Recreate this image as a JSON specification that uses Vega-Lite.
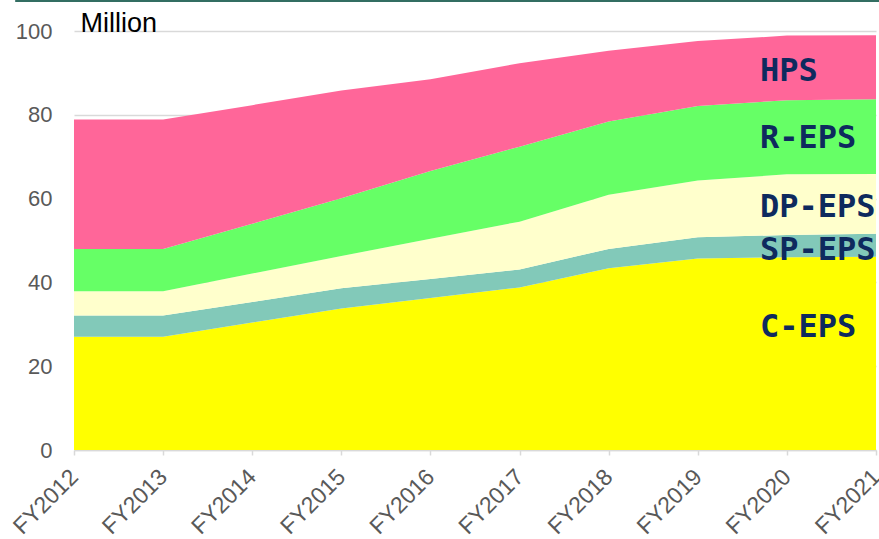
{
  "$schema": "https://vega.github.io/schema/vega-lite/v6.json",
  "width": 802,
  "height": 419,
  "autosize": {"type": "none"},
  "padding": {"left": 74, "top": 31, "right": 3, "bottom": 89},
  "background": "white",
  "config": {"view": {"stroke": null}, "font": "Liberation Sans"},
  "datasets": {
    "eps": [
      {"year": 2012, "type": "C-EPS", "value": 27.0},
      {"year": 2013, "type": "C-EPS", "value": 27.0},
      {"year": 2014, "type": "C-EPS", "value": 30.4},
      {"year": 2015, "type": "C-EPS", "value": 33.8},
      {"year": 2016, "type": "C-EPS", "value": 36.3},
      {"year": 2017, "type": "C-EPS", "value": 38.8},
      {"year": 2018, "type": "C-EPS", "value": 43.4},
      {"year": 2019, "type": "C-EPS", "value": 45.7},
      {"year": 2020, "type": "C-EPS", "value": 46.0},
      {"year": 2021, "type": "C-EPS", "value": 46.1},
      {"year": 2012, "type": "SP-EPS", "value": 5.1},
      {"year": 2013, "type": "SP-EPS", "value": 5.1},
      {"year": 2014, "type": "SP-EPS", "value": 4.9},
      {"year": 2015, "type": "SP-EPS", "value": 4.8},
      {"year": 2016, "type": "SP-EPS", "value": 4.5},
      {"year": 2017, "type": "SP-EPS", "value": 4.3},
      {"year": 2018, "type": "SP-EPS", "value": 4.6},
      {"year": 2019, "type": "SP-EPS", "value": 5.1},
      {"year": 2020, "type": "SP-EPS", "value": 5.3},
      {"year": 2021, "type": "SP-EPS", "value": 5.5},
      {"year": 2012, "type": "DP-EPS", "value": 5.8},
      {"year": 2013, "type": "DP-EPS", "value": 5.8},
      {"year": 2014, "type": "DP-EPS", "value": 6.8},
      {"year": 2015, "type": "DP-EPS", "value": 7.7},
      {"year": 2016, "type": "DP-EPS", "value": 9.6},
      {"year": 2017, "type": "DP-EPS", "value": 11.4},
      {"year": 2018, "type": "DP-EPS", "value": 12.9},
      {"year": 2019, "type": "DP-EPS", "value": 13.5},
      {"year": 2020, "type": "DP-EPS", "value": 14.5},
      {"year": 2021, "type": "DP-EPS", "value": 14.3},
      {"year": 2012, "type": "R-EPS", "value": 10.1},
      {"year": 2013, "type": "R-EPS", "value": 10.1},
      {"year": 2014, "type": "R-EPS", "value": 11.9},
      {"year": 2015, "type": "R-EPS", "value": 13.8},
      {"year": 2016, "type": "R-EPS", "value": 16.2},
      {"year": 2017, "type": "R-EPS", "value": 17.9},
      {"year": 2018, "type": "R-EPS", "value": 17.5},
      {"year": 2019, "type": "R-EPS", "value": 17.8},
      {"year": 2020, "type": "R-EPS", "value": 17.7},
      {"year": 2021, "type": "R-EPS", "value": 17.8},
      {"year": 2012, "type": "HPS", "value": 30.9},
      {"year": 2013, "type": "HPS", "value": 30.9},
      {"year": 2014, "type": "HPS", "value": 28.3},
      {"year": 2015, "type": "HPS", "value": 25.7},
      {"year": 2016, "type": "HPS", "value": 21.9},
      {"year": 2017, "type": "HPS", "value": 19.9},
      {"year": 2018, "type": "HPS", "value": 16.9},
      {"year": 2019, "type": "HPS", "value": 15.5},
      {"year": 2020, "type": "HPS", "value": 15.4},
      {"year": 2021, "type": "HPS", "value": 15.3}
    ],
    "labels": [
      {"type": "HPS", "value": 88.1},
      {"type": "R-EPS", "value": 72.1},
      {"type": "DP-EPS", "value": 55.7},
      {"type": "SP-EPS", "value": 45.3},
      {"type": "C-EPS", "value": 27.0}
    ]
  },
  "layer": [
    {
      "data": {"name": "eps"},
      "transform": [
        {"calculate": "indexof(['C-EPS','SP-EPS','DP-EPS','R-EPS','HPS'], datum.type)", "as": "stackOrder"}
      ],
      "mark": {"type": "area", "interpolate": "linear"},
      "encoding": {
        "x": {
          "field": "year",
          "type": "quantitative",
          "scale": {"domain": [2012, 2021], "nice": false, "zero": false},
          "axis": {
            "title": null,
            "values": [2012, 2013, 2014, 2015, 2016, 2017, 2018, 2019, 2020, 2021],
            "labelExpr": "'FY' + datum.value",
            "labelAngle": -45,
            "labelAlign": "right",
            "labelBaseline": "middle",
            "labelFontSize": 23,
            "labelColor": "#595959",
            "labelPadding": 18,
            "labelFlush": false,
            "labelOverlap": false,
            "labelBound": false,
            "domainColor": "#d9d9d9",
            "domainWidth": 1.5,
            "tickColor": "#d9d9d9",
            "tickWidth": 1.5,
            "tickSize": 5,
            "grid": false
          }
        },
        "y": {
          "field": "value",
          "type": "quantitative",
          "stack": "zero",
          "scale": {"domain": [0, 100], "nice": false},
          "axis": {
            "title": "Million",
            "titleAngle": 0,
            "titleAlign": "left",
            "titleBaseline": "alphabetic",
            "titleX": 6,
            "titleY": 0,
            "titleFontSize": 27,
            "titleFontWeight": "normal",
            "titleColor": "#000000",
            "values": [0, 20, 40, 60, 80, 100],
            "labelFontSize": 22,
            "labelColor": "#595959",
            "labelPadding": 22,
            "domain": false,
            "ticks": false,
            "gridColor": "#d9d9d9",
            "gridWidth": 1.5
          }
        },
        "color": {
          "field": "type",
          "type": "nominal",
          "scale": {
            "domain": ["C-EPS", "SP-EPS", "DP-EPS", "R-EPS", "HPS"],
            "range": ["#FFFF00", "#82C9B9", "#FFFFCC", "#66FF66", "#FF6699"]
          },
          "legend": null
        },
        "order": {"field": "stackOrder", "type": "quantitative"}
      }
    },
    {
      "data": {"name": "labels"},
      "mark": {
        "type": "text",
        "font": "DejaVu Sans Mono",
        "fontWeight": "bold",
        "fontSize": 32,
        "color": "#0E2A5E",
        "align": "left",
        "baseline": "alphabetic",
        "dx": -27
      },
      "encoding": {
        "x": {"datum": 2020, "type": "quantitative"},
        "y": {"field": "value", "type": "quantitative"},
        "text": {"field": "type"}
      }
    },
    {
      "data": {"values": [{}]},
      "mark": {"type": "rule", "color": "#336E62", "strokeWidth": 2.5, "clip": false},
      "encoding": {
        "x": {"datum": 2011.34, "type": "quantitative"},
        "x2": {"datum": 2021.04},
        "y": {"datum": 107.2, "type": "quantitative"}
      }
    }
  ]
}
